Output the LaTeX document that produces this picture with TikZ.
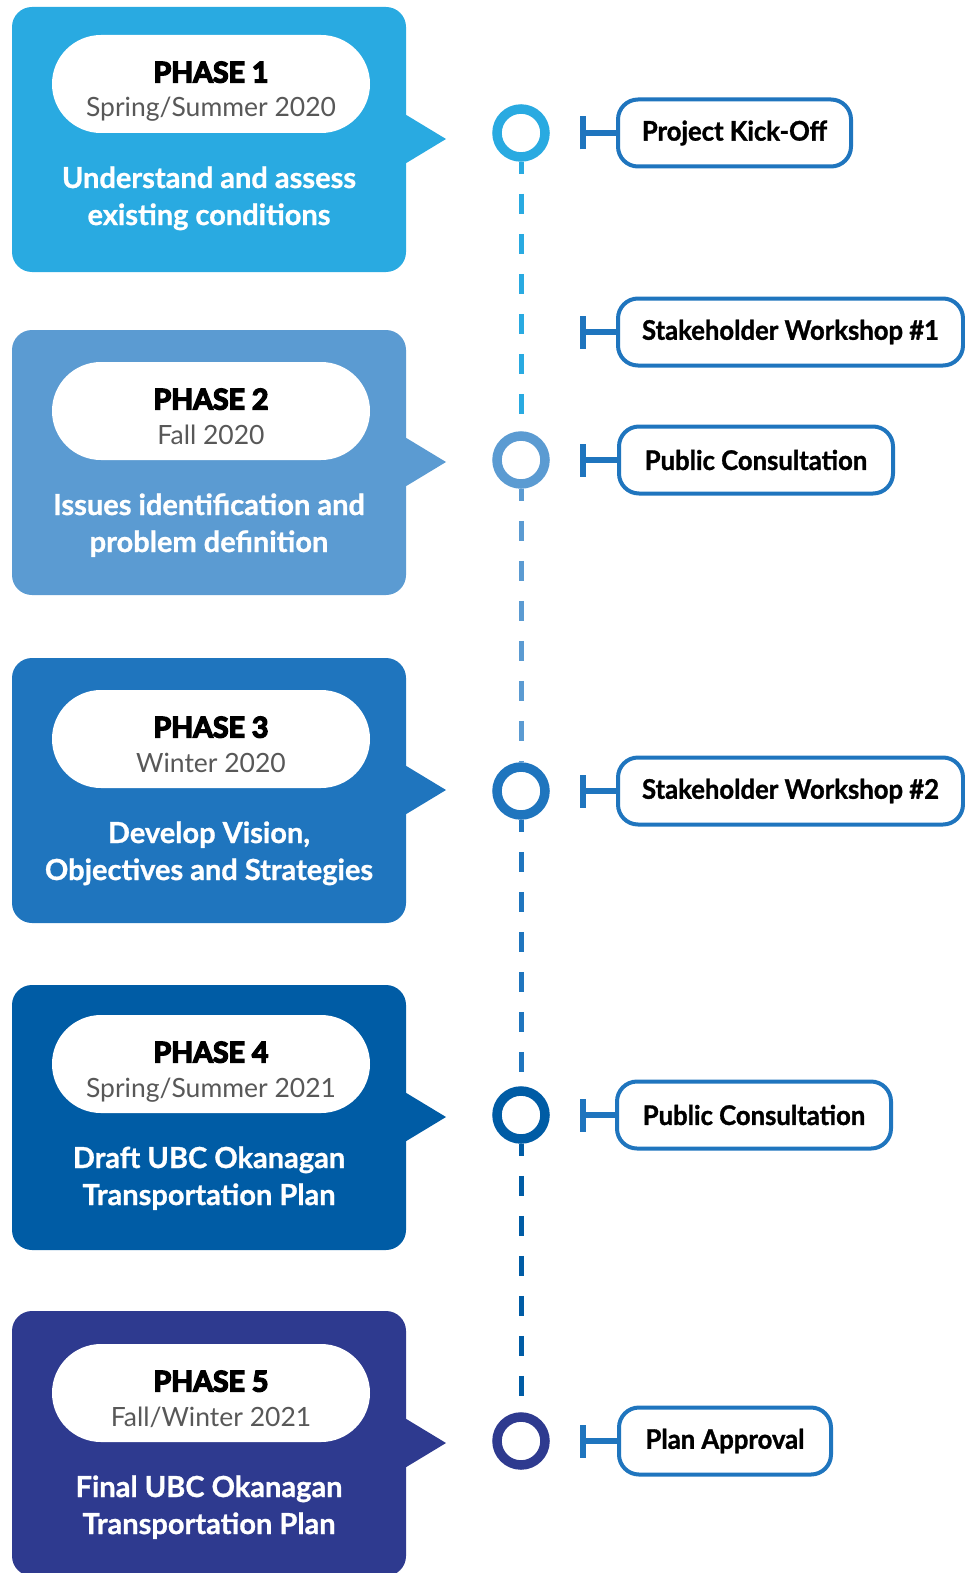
\documentclass[tikz,border=0pt]{standalone}
\usepackage{fontspec}
\setmainfont{Lato}
\newfontfamily\heavyfont{Lato}[UprightFeatures={FakeBold=5}, BoldFeatures={FakeBold=5}]
\newfontfamily\evfont{Lato}[BoldFeatures={FakeBold=1.2,FakeStretch=0.95}]
\newfontfamily\bodyfont{Lato}[BoldFeatures={FakeBold=1}]
\usetikzlibrary{shapes.misc}
\definecolor{pone}{RGB}{41,170,225}
\definecolor{ptwo}{RGB}{91,155,210}
\definecolor{pthree}{RGB}{31,117,190}
\definecolor{pfour}{RGB}{0,92,165}
\definecolor{pfive}{RGB}{46,58,143}
\definecolor{evborder}{RGB}{31,117,190}
\definecolor{subgray}{RGB}{88,88,88}
\tikzset{
  pill/.style={rounded rectangle, fill=white, minimum width=318, minimum height=98, inner sep=0},
  phasett/.style={inner sep=0, font=\heavyfont\bfseries\fontsize{28.5}{34}\selectfont, text=black},
  subtt/.style={inner sep=0, font=\fontsize{26.5}{32}\selectfont, text=subgray},
  bodytt/.style={inner sep=0, font=\bodyfont\bfseries\fontsize{29}{34}\selectfont, text=white},
  ring/.style={circle, draw=#1, line width=9.5, minimum size=48, fill=white, inner sep=0},
  evtbox/.style={draw=evborder, line width=4, rounded corners=20, fill=white, minimum height=67,
    minimum width=#1, inner sep=0, anchor=west, font=\evfont\bfseries\fontsize{27}{32}\selectfont, text=black},
  brk/.style={draw=evborder, line width=6},
  dashline/.style={draw=#1, line width=5, dash pattern=on 20 off 20, dash phase=8},
}
\newcommand\PhaseBox[8]{%
  \fill[#2, rounded corners=20] (12,#3) rectangle (406,{#3+265});
  \fill[#2] (403,{#3+106}) -- (446,{#3+132}) -- (403,{#3+158}) -- cycle;
  \node[pill] (pill#1) at (211,{#4+49}) {};
  \node[phasett, anchor=base] (ph#1) at (211,{#4+47.5}) {#5};
  \node[subtt, anchor=base] (sub#1) at (211,{#4+82}) {#6};
  \node[bodytt, anchor=base] (bodyA#1) at (209,{#4+153}) {#7};
  \node[bodytt, anchor=base] (bodyB#1) at (209,{#4+190}) {#8};
}
\begin{document}
\begin{tikzpicture}[x=1pt,y=-1pt]
\useasboundingbox (0,0) rectangle (965,1573);
\clip (0,0) rectangle (965,1573);

\PhaseBox{1}{pone}{7}{35}{PHASE 1}{Spring/Summer 2020}{Understand and assess}{existing conditions}
\PhaseBox{2}{ptwo}{330}{362}{PHASE 2}{Fall 2020}{Issues identification and}{problem definition}
\PhaseBox{3}{pthree}{658}{690}{PHASE 3}{Winter 2020}{Develop Vision,}{Objectives and Strategies}
\PhaseBox{4}{pfour}{985}{1015}{PHASE 4}{Spring/Summer 2021}{Draft UBC Okanagan}{Transportation Plan}
\PhaseBox{5}{pfive}{1311}{1344}{PHASE 5}{Fall/Winter 2021}{Final UBC Okanagan}{Transportation Plan}

% timeline rings
\node[ring=pone] (c1) at (521,133) {};
\node[ring=ptwo] (c2) at (521,460) {};
\node[ring=pthree] (c3) at (521,791) {};
\node[ring=pfour] (c4) at (521,1115) {};
\node[ring=pfive] (c5) at (521,1441) {};

\draw[dashline=pone] (c1.south) -- (c2.north);
\draw[dashline=ptwo] (c2.south) -- (c3.north);
\draw[dashline=pthree] (c3.south) -- (c4.north);
\draw[dashline=pfour] (c4.south) -- (c5.north);

% events
\node[evtbox=233] (e1) at (616,133) {Project Kick-Off};
\node[evtbox=345] (e2) at (616,332) {Stakeholder Workshop \#1};
\node[evtbox=274] (e3) at (617,460) {Public Consultation};
\node[evtbox=345] (e4) at (616,791) {Stakeholder Workshop \#2};
\node[evtbox=274] (e5) at (615,1115) {Public Consultation};
\node[evtbox=212] (e6) at (617,1441) {Plan Approval};

% bracket connectors
\foreach \i/\yy in {1/133,2/332,3/460,4/791,5/1115,6/1441}{
  \coordinate (b\i) at (583,\yy);
  \draw[brk] (e\i.west) -- (b\i);
  \draw[brk] ([yshift=-16.5pt]b\i) -- ([yshift=16.5pt]b\i);
}
\end{tikzpicture}
\end{document}
